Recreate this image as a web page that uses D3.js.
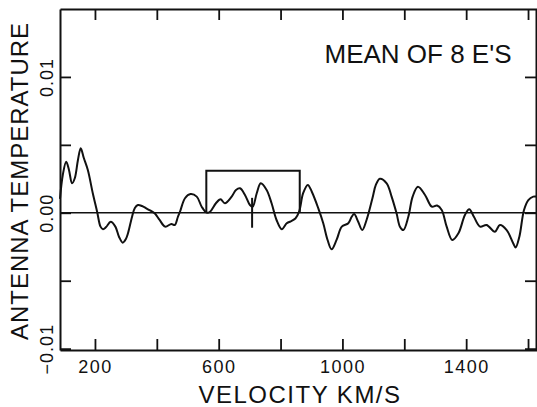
<!DOCTYPE html>
<html>
<head>
<meta charset="utf-8">
<script src="https://cdn.jsdelivr.net/npm/d3@7"></script>
<style>
  body { margin: 0; background: #fff; }
  svg { display: block; font-family: "Liberation Sans", Arial, sans-serif; }
</style>
</head>
<body>
<div id="chart"></div>
<script>
// spectrum (velocity km/s, antenna temperature)
var velocity = [87, 96, 107, 116, 126, 135, 145, 154, 164, 177, 193, 207, 218, 226, 236, 251, 266, 278, 290, 300,
  307, 320, 329, 339, 352, 366, 378, 393, 409, 427, 447, 458, 468, 475, 491, 509, 529, 545, 561, 572,
  591, 606, 620, 642, 656, 669, 685, 701, 710, 723, 736, 755, 771, 787, 804, 820, 830, 848, 860, 873,
  888, 901, 922, 938, 952, 965, 981, 998, 1019, 1030, 1038, 1051, 1064, 1078, 1097, 1108, 1121, 1143, 1159, 1175,
  1186, 1197, 1213, 1227, 1244, 1267, 1289, 1306, 1321, 1337, 1355, 1375, 1396, 1410, 1425, 1445, 1466, 1493, 1509, 1531,
  1552, 1560, 1572, 1587, 1601, 1617, 1629];
var temperature = [0.00102, 0.00278, 0.00376, 0.00315, 0.00217, 0.00256, 0.00389, 0.00475, 0.00403, 0.00315, 0.00144, 0.00008, -0.00102, -0.00121, -0.00105, -0.00066, -0.00102, -0.00178, -0.0022, -0.00193,
  -0.00149, -0.00029, 0.00035, 0.00057, 0.0005, 0.00033, 0.00017, -0.00004, -0.00053, -0.00102, -0.00082, -0.0009, -0.00031, 0.00008, 0.00107, 0.00138, 0.00119, 0.00045, 0.00001, 0.00008,
  0.0007, 0.00099, 0.0007, 0.00119, 0.00168, 0.0018, 0.00131, 0.00057, 0.00045, 0.00144, 0.00217, 0.00168, 0.0007, -0.00053, -0.00121, -0.00077, -0.00066, -0.00042, 0.00008, 0.00144,
  0.00205, 0.00155, 0.00033, -0.00077, -0.002, -0.00269, -0.002, -0.00102, -0.00077, -0.00029, -0.00009, -0.00066, -0.00127, -0.00053, 0.00107, 0.00205, 0.00251, 0.00217, 0.00119, -0.00004,
  -0.00102, -0.00127, -0.00029, 0.00119, 0.00192, 0.00131, 0.00045, 0.00054, 0.00021, -0.00102, -0.002, -0.00151, -0.00016, 0.00026, -0.00029, -0.00102, -0.0009, -0.00139, -0.0009, -0.00127,
  -0.00224, -0.00255, -0.00176, 0.00021, 0.00094, 0.00119, 0.00119];

var xTicks = [200, 400, 600, 800, 1000, 1200, 1400, 1600];
var xLabels = [200, 600, 1000, 1400];
var yTicks = [-0.01, -0.005, 0, 0.005, 0.01];
var yLabelTicks = [-0.01, 0, 0.01];
var yLabels = ["\u22120.01", "0.00", "0.01"];
var boxRange = [560, 862];
var boxTop = 0.0031;
var markerV = 708;
var markerHalf = 0.0011;

var W = 537, H = 407;
var plotLeft = 60, plotRight = 536, plotTop = 9, plotBottom = 350;

var svg = d3.select("#chart").append("svg")
    .attr("width", W)
    .attr("height", H);

var x = d3.scaleLinear().domain([87, 1629]).range([plotLeft, 537]);
var y = d3.scaleLinear().domain([-0.0101, 0.015]).range([plotBottom, plotTop]);

var tickLen = 11;

// bottom axis
var xAxis = svg.append("g")
    .attr("transform", "translate(0," + plotBottom + ")")
    .call(d3.axisBottom(x).tickValues(xTicks).tickSizeInner(-tickLen).tickSizeOuter(0).tickPadding(10)
      .tickFormat(function(d) { return xLabels.indexOf(d) >= 0 ? d : ""; }));
// top axis
svg.append("g")
    .attr("transform", "translate(0," + plotTop + ")")
    .call(d3.axisTop(x).tickValues(xTicks).tickSizeInner(-tickLen).tickSizeOuter(0).tickFormat(""));
// left axis
var yAxis = svg.append("g")
    .attr("transform", "translate(" + plotLeft + ",0)")
    .call(d3.axisLeft(y).tickValues(yTicks).tickSizeInner(-tickLen).tickSizeOuter(0)
      .tickFormat(function(d) {
        var i = yLabelTicks.indexOf(d);
        return i >= 0 ? yLabels[i] : "";
      }));
// right axis
svg.append("g")
    .attr("transform", "translate(" + plotRight + ",0)")
    .call(d3.axisRight(y).tickValues(yTicks).tickSizeInner(-tickLen).tickSizeOuter(0).tickFormat(""));

svg.selectAll(".domain").attr("stroke", "#111").attr("stroke-width", 2);
svg.selectAll(".tick line").attr("stroke", "#111").attr("stroke-width", 1.8);
svg.selectAll(".tick text").attr("fill", "#111").attr("font-family", "Liberation Sans, Arial, sans-serif");

xAxis.selectAll("text").attr("font-size", 18).attr("letter-spacing", 1.5);
yAxis.selectAll("text")
    .attr("font-size", 18)
    .attr("letter-spacing", 1)
    .attr("x", 0).attr("y", 0).attr("dy", 0)
    .attr("text-anchor", "middle")
    .attr("transform", "translate(-7,0) rotate(-90)");

// zero line
svg.append("line")
    .attr("x1", plotLeft).attr("x2", 537)
    .attr("y1", y(0)).attr("y2", y(0))
    .attr("stroke", "#111").attr("stroke-width", 1.6);

// spectrum
var pts = velocity.map(function(v, i) { return [v, temperature[i]]; });
var line = d3.line()
    .x(function(d) { return x(d[0]); })
    .y(function(d) { return y(d[1]); })
    .curve(d3.curveCatmullRom.alpha(0.5));
svg.append("path")
    .datum(pts)
    .attr("d", line)
    .attr("fill", "none")
    .attr("stroke", "#111")
    .attr("stroke-width", 2);

// box showing the expected range
svg.append("path")
    .attr("d", "M" + x(boxRange[0]) + "," + y(0) + "V" + y(boxTop) + "H" + x(boxRange[1]) + "V" + y(0))
    .attr("fill", "none").attr("stroke", "#111").attr("stroke-width", 2);
svg.append("line")
    .attr("x1", x(markerV)).attr("x2", x(markerV))
    .attr("y1", y(markerHalf)).attr("y2", y(-markerHalf))
    .attr("stroke", "#111").attr("stroke-width", 2);

// titles
svg.append("text")
    .attr("x", 300).attr("y", 403)
    .attr("text-anchor", "middle")
    .attr("font-size", 24)
    .attr("letter-spacing", 1.5)
    .attr("fill", "#111")
    .text("VELOCITY KM/S");

svg.append("text")
    .attr("transform", "translate(28,181) rotate(-90)")
    .attr("text-anchor", "middle")
    .attr("font-size", 24)
    .attr("letter-spacing", 1)
    .attr("fill", "#111")
    .text("ANTENNA  TEMPERATURE");

svg.append("text")
    .attr("x", 418).attr("y", 63)
    .attr("text-anchor", "middle")
    .attr("font-size", 26)
    .attr("fill", "#111")
    .text("MEAN OF 8 E'S");
</script>
</body>
</html>
